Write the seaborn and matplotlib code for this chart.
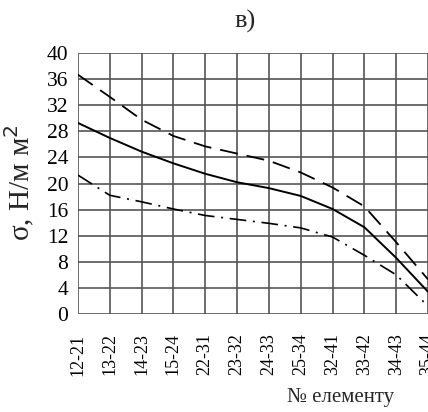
import matplotlib
matplotlib.use("Agg")
import matplotlib.pyplot as plt
import seaborn as sns
import pandas as pd

elements = ["12-21", "13-22", "14-23", "15-24", "22-31", "23-32",
            "24-33", "25-34", "32-41", "33-42", "34-43", "35-44"]
upper = [36.7, 33.3, 29.8, 27.3, 25.7, 24.6, 23.5, 21.7, 19.4, 16.5, 11.0, 5.3]
middle = [29.3, 27.0, 24.9, 23.1, 21.5, 20.2, 19.3, 18.1, 16.1, 13.3, 8.6, 3.4]
lower = [21.3, 18.2, 17.2, 16.1, 15.1, 14.5, 13.9, 13.2, 11.8, 9.0, 6.0, 1.2]

y_ticks = [0, 4, 8, 12, 16, 20, 24, 28, 32, 36, 40]

sns.set_theme(style="white")
plt.rcParams["font.family"] = ["Liberation Serif", "DejaVu Serif"]

fig = plt.figure(figsize=(4.28, 4.12), dpi=100)
ax = fig.add_axes([0.182, 0.238, 0.818, 0.633])

df = pd.DataFrame({"el": elements, "upper": upper, "middle": middle, "lower": lower})

sns.lineplot(data=df, x="el", y="upper", ax=ax, color="black", lw=1.3,
             sort=False)
sns.lineplot(data=df, x="el", y="middle", ax=ax, color="black", lw=1.4,
             sort=False)
sns.lineplot(data=df, x="el", y="lower", ax=ax, color="black", lw=1.2,
             sort=False)
lines = ax.get_lines()
lines[0].set_dashes([10, 5])
lines[2].set_dashes([10, 4, 1.2, 4])

ax.set_xlim(0, len(elements) - 1)
ax.set_ylim(0, 40)
ax.set_yticks(y_ticks)
ax.set_xticks(range(len(elements)))
ax.set_xticklabels(elements, rotation=90)
ax.tick_params(axis="y", labelsize=15.5, length=0, pad=7, colors="black")
ax.tick_params(axis="x", labelsize=13, length=0, pad=14, colors="black")
ax.grid(True, color="#555555", lw=1.2)
ax.set_axisbelow(True)
for s in ax.spines.values():
    s.set_visible(False)

ax.set_xlabel("")
ax.set_ylabel("")
fig.text(20 / 428, 1 - 183 / 412, "σ, Н/м м$^2$", fontsize=21, rotation=90,
         ha="center", va="center")
fig.text(0.795, 0.035, "№ елементу", fontsize=15, ha="center", va="center")
fig.text(0.572, 0.949, "в)", fontsize=19, ha="center", va="center")

fig.savefig("out.png", dpi=100)
